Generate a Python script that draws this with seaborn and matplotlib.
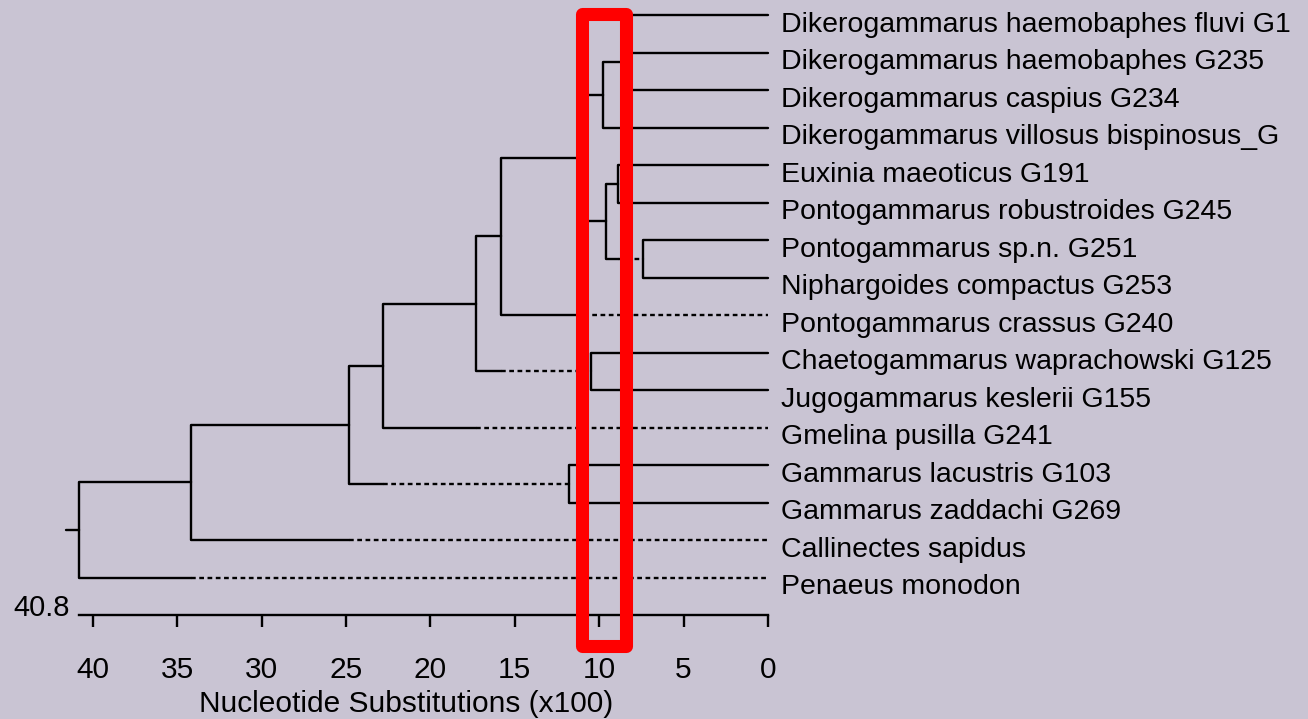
import matplotlib
matplotlib.use("Agg")
import matplotlib.pyplot as plt
import pandas as pd
import seaborn as sns
from matplotlib.patches import Rectangle

BG = "#c9c4d3"

# leaf labels, top to bottom (first and fourth are cut off in the source image)
leaves = [
    "Dikerogammarus haemobaphes fluvi G1",
    "Dikerogammarus haemobaphes G235",
    "Dikerogammarus caspius G234",
    "Dikerogammarus villosus bispinosus_G",
    "Euxinia maeoticus G191",
    "Pontogammarus robustroides G245",
    "Pontogammarus sp.n. G251",
    "Niphargoides compactus G253",
    "Pontogammarus crassus G240",
    "Chaetogammarus waprachowski G125",
    "Jugogammarus keslerii G155",
    "Gmelina pusilla G241",
    "Gammarus lacustris G103",
    "Gammarus zaddachi G269",
    "Callinectes sapidus",
    "Penaeus monodon",
]

# internal nodes (children listed before parents), heights in substitutions x100
node_ids = ["n12", "n123", "n1234", "n56", "n78", "n5678", "n1_8", "n1_9",
            "n10_11", "n1_11", "n1_12", "n13_14", "n1_14", "n1_15", "root"]
node_heights = [8.2, 8.6, 9.8, 8.9, 7.4, 9.6, 10.9, 15.8,
                10.5, 17.3, 22.8, 11.8, 24.8, 34.2, 40.8]
node_children = [(0, 1), ("n12", 2), ("n123", 3), (4, 5), (6, 7), ("n56", "n78"),
                 ("n1234", "n5678"), ("n1_8", 8), (9, 10), ("n1_9", "n10_11"),
                 ("n1_11", 11), (12, 13), ("n1_12", "n13_14"), ("n1_14", 14),
                 ("n1_15", 15)]

# branches drawn solid down to this height, dotted for the rest
dotted_from = {"n78": 8.9, 8: 10.9, "n10_11": 15.8, 11: 17.3,
               "n13_14": 22.8, 14: 24.8, 15: 34.2}
root_stub = 0.8

x_ticks = [40, 35, 30, 25, 20, 15, 10, 5, 0]
x_label = "Nucleotide Substitutions (x100)"
max_label = "40.8"
highlight = (11.0, 8.4)  # red box around this range

# --- build line segments -------------------------------------------------
height = {i: 0.0 for i in range(len(leaves))}
row = {i: float(i) for i in range(len(leaves))}
for nid, h, kids in zip(node_ids, node_heights, node_children):
    height[nid] = h
    row[nid] = (row[kids[0]] + row[kids[1]]) / 2

recs = []
seg = 0
for nid, kids in zip(node_ids, node_children):
    h, r = height[nid], row[nid]
    for k in kids:
        end = dotted_from.get(k, height[k])
        for x, y in [(h, r), (h, row[k]), (end, row[k])]:
            recs.append((seg, x, y, "solid"))
        seg += 1
        if k in dotted_from:
            recs.append((seg, end, row[k], "dotted"))
            recs.append((seg, height[k], row[k], "dotted"))
            seg += 1
root_h, root_r = height["root"], row["root"]
recs.append((seg, root_h + root_stub, root_r, "solid"))
recs.append((seg, root_h, root_r, "solid"))
df = pd.DataFrame(recs, columns=["seg", "x", "y", "kind"])

# --- figure --------------------------------------------------------------
sns.set_theme(style="ticks", rc={"axes.facecolor": BG, "figure.facecolor": BG,
                                 "axes.edgecolor": "black", "xtick.color": "black",
                                 "text.color": "black", "axes.labelcolor": "black"})
plt.rcParams["font.family"] = ["Liberation Sans", "DejaVu Sans"]

W, H = 1308, 719
LW = 1.7
fig = plt.figure(figsize=(W / 100, H / 100), dpi=100)
ax = fig.add_axes([0, 1 - 615 / H, 1, 615 / H])

px_per_unit = 16.875
x0_px = 768
ax.set_xlim(x0_px / px_per_unit, -(W - x0_px) / px_per_unit)
ax.set_ylim(len(leaves), -0.4)

sns.lineplot(data=df, x="x", y="y", units="seg", style="kind", estimator=None,
             sort=False, color="black", linewidth=LW, legend=False, ax=ax,
             dashes={"solid": "", "dotted": (2, 1.5)})

for i, name in enumerate(leaves):
    ax.annotate(name, (0, i), xytext=(9.7, -12), textcoords="offset points",
                ha="left", va="baseline", fontsize=20.5, annotation_clip=False)

ax.annotate(max_label, (root_h, len(leaves)), xytext=(-6.8, -0.7),
            textcoords="offset points", ha="right", va="baseline", fontsize=21,
            annotation_clip=False)

for s in ["left", "top", "right"]:
    ax.spines[s].set_visible(False)
ax.spines["bottom"].set_bounds(0, root_h)
ax.spines["bottom"].set_linewidth(LW)
ax.set_yticks([])
ax.set_xticks(x_ticks)
ax.set_xticklabels([str(t) for t in x_ticks])
ax.tick_params(axis="x", direction="out", length=8.7, width=LW, pad=21,
               labelsize=21.5, bottom=True)
ax.set_xlabel(x_label, fontsize=21.5, va="top")
ax.xaxis.set_label_coords(406 / W, -75 / 615)
ax.set_ylabel("")

ax.add_patch(Rectangle((highlight[0], -0.04), highlight[1] - highlight[0], len(leaves) + 0.87,
                       fill=False, edgecolor="#ff0000", lw=9.4, joinstyle="round",
                       clip_on=False, zorder=5))

fig.savefig("out.png", dpi=100, facecolor=BG)
